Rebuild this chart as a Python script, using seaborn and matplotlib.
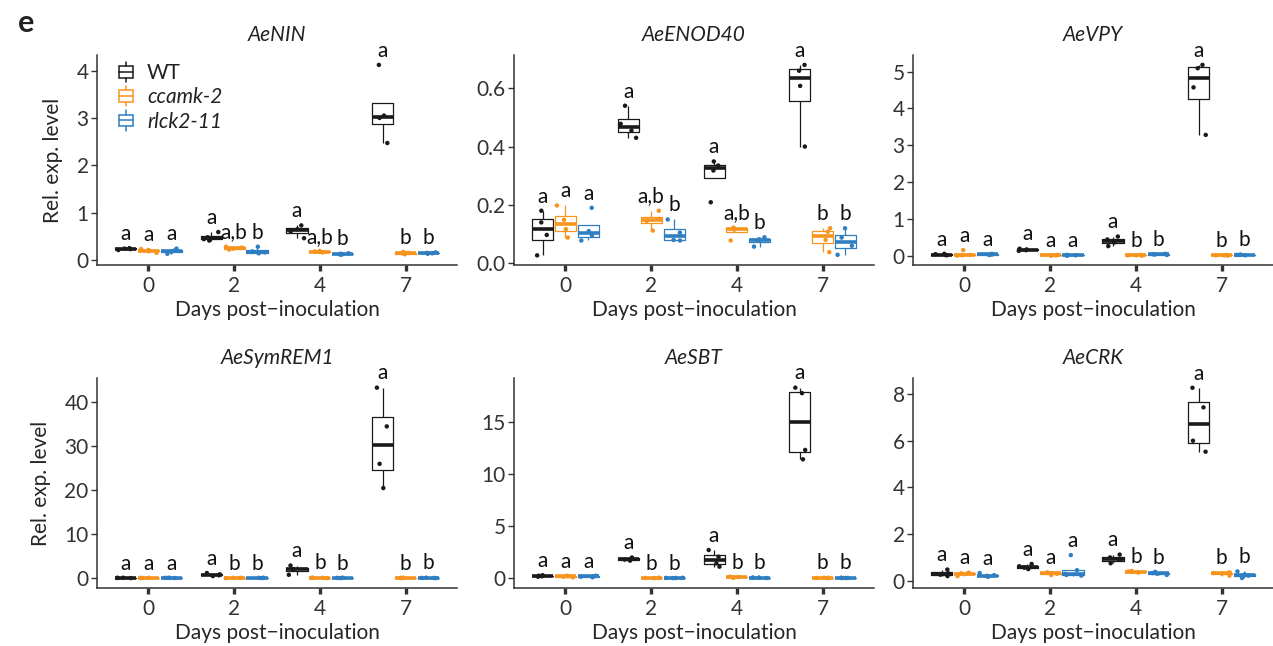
import numpy as np
import pandas as pd
import matplotlib
matplotlib.use("Agg")
import matplotlib.pyplot as plt
import seaborn as sns
from matplotlib.legend_handler import HandlerBase
from matplotlib.patches import Rectangle
from matplotlib.lines import Line2D

# ---------------- data ----------------
days = ["0", "2", "4", "7"]
genotypes = ["WT", "ccamk-2", "rlck2-11"]
genes = ["AeNIN", "AeENOD40", "AeVPY", "AeSymREM1", "AeSBT", "AeCRK"]
palette = ["#1a1a1a", "#F7941D", "#2E7EC1"]

# replicate values, per day (0, 2, 4, 7)
nin_wt = [[0.21, 0.23, 0.24, 0.25], [0.41, 0.44, 0.48, 0.59], [0.46, 0.60, 0.65, 0.73], [2.47, 3.00, 3.05, 4.12]]
nin_cc = [[0.15, 0.19, 0.21, 0.23], [0.22, 0.24, 0.26, 0.28], [0.16, 0.17, 0.18, 0.19], [0.12, 0.14, 0.15, 0.17]]
nin_rl = [[0.13, 0.17, 0.20, 0.24], [0.14, 0.16, 0.18, 0.28], [0.11, 0.12, 0.13, 0.14], [0.13, 0.14, 0.15, 0.16]]

enod_wt = [[0.027, 0.097, 0.14, 0.18], [0.43, 0.455, 0.478, 0.54], [0.209, 0.318, 0.335, 0.349], [0.40, 0.608, 0.66, 0.68]]
enod_cc = [[0.088, 0.117, 0.149, 0.198], [0.112, 0.145, 0.152, 0.18], [0.078, 0.115, 0.12, 0.122], [0.038, 0.08, 0.108, 0.12]]
enod_rl = [[0.078, 0.095, 0.11, 0.19], [0.078, 0.08, 0.105, 0.15], [0.057, 0.078, 0.082, 0.089], [0.029, 0.06, 0.088, 0.12]]

vpy_wt = [[0.01, 0.02, 0.04, 0.05], [0.13, 0.15, 0.17, 0.19], [0.26, 0.36, 0.44, 0.52], [3.28, 4.57, 5.09, 5.18]]
vpy_cc = [[0.0, 0.01, 0.02, 0.15], [0.0, 0.01, 0.01, 0.02], [0.0, 0.01, 0.01, 0.02], [0.0, 0.01, 0.01, 0.02]]
vpy_rl = [[0.02, 0.03, 0.04, 0.05], [0.0, 0.01, 0.01, 0.02], [0.02, 0.03, 0.04, 0.05], [0.01, 0.02, 0.02, 0.03]]

rem_wt = [[0.05, 0.08, 0.10, 0.12], [0.5, 0.7, 0.9, 1.2], [0.8, 1.9, 2.1, 2.9], [20.5, 26.0, 34.5, 43.3]]
rem_cc = [[0.05, 0.08, 0.10, 0.12], [0.05, 0.08, 0.10, 0.12], [0.05, 0.08, 0.10, 0.15], [0.05, 0.08, 0.10, 0.12]]
rem_rl = [[0.06, 0.08, 0.10, 0.13], [0.05, 0.08, 0.10, 0.12], [0.05, 0.08, 0.10, 0.12], [0.05, 0.08, 0.10, 0.14]]

sbt_wt = [[0.15, 0.20, 0.25, 0.30], [1.7, 1.8, 1.9, 2.0], [1.12, 1.44, 2.08, 2.72], [11.44, 12.34, 17.8, 18.33]]
sbt_cc = [[0.10, 0.15, 0.20, 0.25], [0.02, 0.03, 0.04, 0.05], [0.05, 0.10, 0.12, 0.15], [0.02, 0.03, 0.05, 0.06]]
sbt_rl = [[0.10, 0.15, 0.20, 0.25], [0.02, 0.03, 0.04, 0.05], [0.03, 0.05, 0.06, 0.08], [0.02, 0.03, 0.04, 0.06]]

crk_wt = [[0.20, 0.26, 0.32, 0.48], [0.50, 0.56, 0.62, 0.72], [0.75, 0.90, 1.00, 1.12], [5.53, 6.00, 7.43, 8.27]]
crk_cc = [[0.20, 0.30, 0.32, 0.35], [0.25, 0.30, 0.33, 0.36], [0.35, 0.38, 0.40, 0.42], [0.22, 0.30, 0.33, 0.36]]
crk_rl = [[0.17, 0.20, 0.24, 0.33], [0.22, 0.25, 0.30, 0.45, 1.10], [0.25, 0.30, 0.33, 0.38], [0.12, 0.22, 0.27, 0.40]]

# significance letters, per day: [WT, ccamk-2, rlck2-11]
nin_letters = [["a", "a", "a"], ["a", "a,b", "b"], ["a", "a,b", "b"], ["a", "b", "b"]]
enod_letters = [["a", "a", "a"], ["a", "a,b", "b"], ["a", "a,b", "b"], ["a", "b", "b"]]
vpy_letters = [["a", "a", "a"], ["a", "a", "a"], ["a", "b", "b"], ["a", "b", "b"]]
rem_letters = [["a", "a", "a"], ["a", "b", "b"], ["a", "b", "b"], ["a", "b", "b"]]
sbt_letters = [["a", "a", "a"], ["a", "b", "b"], ["a", "b", "b"], ["a", "b", "b"]]
crk_letters = [["a", "a", "a"], ["a", "a", "a"], ["a", "b", "b"], ["a", "b", "b"]]

y_ticks = [[0, 1, 2, 3, 4], [0.0, 0.2, 0.4, 0.6], [0, 1, 2, 3, 4, 5],
           [0, 10, 20, 30, 40], [0, 5, 10, 15], [0, 2, 4, 6, 8]]
y_ticklabels = [["0", "1", "2", "3", "4"], ["0.0", "0.2", "0.4", "0.6"], ["0", "1", "2", "3", "4", "5"],
                ["0", "10", "20", "30", "40"], ["0", "5", "10", "15"], ["0", "2", "4", "6", "8"]]
y_limits = [(-0.106, 4.33), (-0.006, 0.714), (-0.253, 5.45),
            (-2.2, 45.5), (-0.93, 19.26), (-0.31, 8.69)]

panels = [
    (nin_wt, nin_cc, nin_rl, nin_letters),
    (enod_wt, enod_cc, enod_rl, enod_letters),
    (vpy_wt, vpy_cc, vpy_rl, vpy_letters),
    (rem_wt, rem_cc, rem_rl, rem_letters),
    (sbt_wt, sbt_cc, sbt_rl, sbt_letters),
    (crk_wt, crk_cc, crk_rl, crk_letters),
]

# ---------------- style ----------------
sns.set_theme(style="ticks")
plt.rcParams["font.family"] = ["Lato", "DejaVu Sans"]
plt.rcParams["axes.linewidth"] = 1.1
plt.rcParams["axes.edgecolor"] = "#333333"
plt.rcParams["xtick.color"] = "#333333"
plt.rcParams["ytick.color"] = "#333333"
plt.rcParams["text.color"] = "#222222"

np.random.seed(7)

fig = plt.figure(figsize=(12.73, 6.46), dpi=100)
lefts = [0.0762, 0.4038, 0.7172]
bottoms = [0.5898, 0.0898]
w, h = 0.2828, 0.3251

FS = 15


class BoxGlyph(HandlerBase):
    def create_artists(self, legend, orig_handle, xdescent, ydescent,
                       width, height, fontsize, trans):
        c = orig_handle.get_color()
        x0, y0 = -xdescent, -ydescent
        bw = width * 0.62
        bh = height * 0.72
        cx = x0 + width * 0.42
        cy = y0 + height / 2
        rect = Rectangle((cx - bw / 2, cy - bh / 2), bw, bh, fill=False,
                         edgecolor=c, lw=1.1, transform=trans)
        med = Line2D([cx - bw / 2, cx + bw / 2], [cy, cy], color=c, lw=1.1, transform=trans)
        wt = Line2D([cx, cx], [cy + bh / 2, cy + bh / 2 + height * 0.28], color=c, lw=1.1, transform=trans)
        wb = Line2D([cx, cx], [cy - bh / 2, cy - bh / 2 - height * 0.28], color=c, lw=1.1, transform=trans)
        return [rect, med, wt, wb]


for i, (wt, cc, rl, letters) in enumerate(panels):
    ax = fig.add_axes([lefts[i % 3], bottoms[i // 3], w, h])
    rows = []
    for g, series in zip(genotypes, (wt, cc, rl)):
        for d, vals in zip(days, series):
            for v in vals:
                rows.append({"day": d, "genotype": g, "value": v})
    df = pd.DataFrame(rows)

    sns.boxplot(data=df, x="day", y="value", hue="genotype", order=days,
                hue_order=genotypes, palette=palette, saturation=1, fill=False,
                width=0.8, gap=0.08, whis=1.5, linewidth=0.9, showfliers=False,
                showcaps=False, medianprops={"linewidth": 2.6},
                legend=False, ax=ax, zorder=2)
    sns.stripplot(data=df, x="day", y="value", hue="genotype", order=days,
                  hue_order=genotypes, palette=palette, dodge=True, jitter=0.3,
                  size=3.2, linewidth=0, legend=False, ax=ax, zorder=3)

    ymin, ymax = y_limits[i]
    rng = ymax - ymin
    off = 0.8 / 3
    for di, d in enumerate(days):
        for gi, series in enumerate((wt, cc, rl)):
            top = max(series[di]) + 0.02 * rng
            ax.text(di + (gi - 1) * off, top, letters[di][gi], ha="center",
                    va="bottom", fontsize=FS, color="#111111", zorder=4,
                    clip_on=False)

    ax.set_xlim(-0.6, 3.6)
    ax.set_ylim(ymin, ymax)
    ax.set_yticks(y_ticks[i])
    ax.set_yticklabels(y_ticklabels[i])
    ax.set_xticks(range(len(days)))
    ax.set_xticklabels(days)
    ax.tick_params(axis="x", width=2.4, length=4, labelsize=FS, pad=4)
    ax.tick_params(axis="y", width=1.0, length=4, labelsize=FS, pad=2)
    sns.despine(ax=ax)
    ax.set_xlabel("Days post\u2212inoculation", fontsize=FS, labelpad=3)
    if i % 3 == 0:
        ax.set_ylabel("Rel. exp. level", fontsize=FS, labelpad=10)
    else:
        ax.set_ylabel("")
    ax.set_title(genes[i], fontsize=15, style="italic", pad=10)

    if i == 0:
        handles = [Line2D([], [], color=c) for c in palette]
        leg = ax.legend(handles, genotypes, handler_map={Line2D: BoxGlyph()},
                        loc="upper left", bbox_to_anchor=(0.02, 1.02), frameon=False,
                        fontsize=FS, handlelength=1.1, handleheight=0.8,
                        handletextpad=0.35, labelspacing=0.2, borderaxespad=0.2)
        for t in leg.get_texts()[1:]:
            t.set_style("italic")

fig.text(0.014, 0.965, "e", fontsize=22, fontweight="bold", ha="left", va="center")

fig.savefig("out.png", dpi=100)
